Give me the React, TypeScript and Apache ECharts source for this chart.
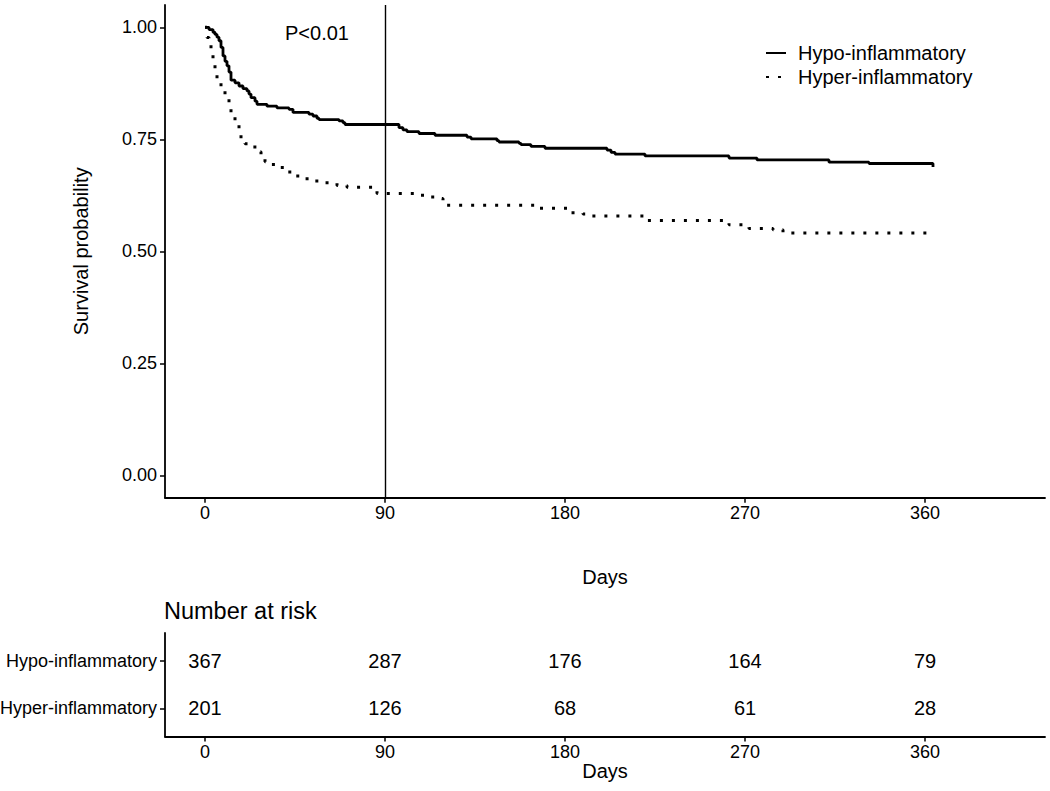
import React, { useEffect, useRef } from "react";
import * as echarts from "echarts";

// Kaplan-Meier step points (day of drop, survival after drop)
const hypoDays = [0, 2, 4, 5, 6, 7, 8, 9, 10, 11, 12, 13, 15, 17, 19, 21, 22, 23, 25, 26, 31, 36, 42, 44, 52, 54, 56, 57, 67, 69, 70, 97, 99, 101, 107, 115, 131, 133, 146, 147, 157, 158, 163, 170, 201, 203, 205, 220, 262, 276, 312, 332, 364];
const hypoSurv = [1.0, 0.995, 0.989, 0.984, 0.978, 0.97, 0.955, 0.936, 0.924, 0.914, 0.9, 0.882, 0.876, 0.869, 0.863, 0.858, 0.851, 0.843, 0.835, 0.828, 0.824, 0.82, 0.817, 0.81, 0.806, 0.802, 0.797, 0.794, 0.791, 0.787, 0.783, 0.776, 0.771, 0.767, 0.763, 0.759, 0.755, 0.751, 0.747, 0.744, 0.741, 0.738, 0.734, 0.73, 0.726, 0.721, 0.717, 0.713, 0.708, 0.704, 0.699, 0.696, 0.688];

const hyperDays = [0, 1, 2, 3, 4, 5, 6, 8, 10, 12, 13, 15, 17, 18, 20, 22, 26, 28, 30, 32, 37, 40, 45, 50, 55, 60, 66, 71, 86, 108, 110, 116, 119, 166, 183, 189, 193, 220, 262, 272, 284, 289, 365];
const hyperSurv = [1.0, 0.977, 0.962, 0.951, 0.925, 0.905, 0.884, 0.865, 0.847, 0.826, 0.806, 0.786, 0.765, 0.75, 0.74, 0.733, 0.722, 0.71, 0.7, 0.694, 0.687, 0.677, 0.668, 0.662, 0.657, 0.653, 0.647, 0.643, 0.629, 0.625, 0.621, 0.618, 0.603, 0.596, 0.586, 0.583, 0.579, 0.569, 0.559, 0.551, 0.548, 0.541, 0.541];

const groupNames = ["Hypo-inflammatory", "Hyper-inflammatory"];
const riskDays = [0, 90, 180, 270, 360];
const hypoAtRisk = [367, 287, 176, 164, 79];
const hyperAtRisk = [201, 126, 68, 61, 28];
const xTicks = [0, 90, 180, 270, 360];
const yTicks = [0, 0.25, 0.5, 0.75, 1];
const cutoffDay = 90;
const pValueText = "P<0.01";
const riskTitle = "Number at risk";
const xTitle = "Days";
const yTitle = "Survival probability";

const FONT = "'Liberation Sans', Arial, Helvetica, sans-serif";

export default function App() {
  const ref = useRef<HTMLDivElement>(null);

  useEffect(() => {
    if (!ref.current) return;
    const chart = echarts.init(ref.current, null, { renderer: "svg" });

    const axisLine = { show: true, onZero: false, lineStyle: { color: "#000", width: 1.8 } };
    const tick = (vals: number[]) => ({
      show: true,
      length: 5,
      customValues: vals,
      lineStyle: { color: "#000", width: 1.5 },
    });
    const xLabel = {
      customValues: xTicks,
      fontSize: 18,
      color: "#000",
      margin: 6,
      fontFamily: FONT,
    };

    const hypoData = hypoDays.map((d, i) => [d, hypoSurv[i]]);
    const hyperData = hyperDays.map((d, i) => [d, hyperSurv[i]]);
    const riskData = [
      ...riskDays.map((d, i) => [d, 2, hypoAtRisk[i]]),
      ...riskDays.map((d, i) => [d, 1, hyperAtRisk[i]]),
    ];

    chart.setOption({
      animation: false,
      backgroundColor: "#fff",
      textStyle: { fontFamily: FONT },
      title: {
        text: riskTitle,
        left: 164,
        top: 599,
        padding: 0,
        textStyle: { fontSize: 23.5, fontWeight: "normal", color: "#000", fontFamily: FONT },
      },
      legend: {
        orient: "vertical",
        left: 765,
        top: 43,
        padding: 0,
        itemGap: 4,
        itemWidth: 20,
        itemHeight: 14,
        itemStyle: { opacity: 0, borderWidth: 0 },
        data: groupNames,
        textStyle: { fontSize: 20, color: "#000", fontFamily: FONT, padding: [0, 0, 0, 7] },
      },
      grid: [
        { left: 165, top: 4.9, width: 880, height: 492.8, containLabel: false, outerBoundsMode: "none" },
        { left: 165, top: 633, width: 880, height: 103.5, containLabel: false, outerBoundsMode: "none" },
      ],
      xAxis: [
        {
          gridIndex: 0,
          type: "value",
          min: -20,
          max: 420,
          axisLine,
          axisTick: tick(xTicks),
          axisLabel: xLabel,
          splitLine: { show: false },
          name: xTitle,
          nameLocation: "middle",
          nameGap: 69,
          nameTextStyle: { fontSize: 20, color: "#000", fontFamily: FONT },
        },
        {
          gridIndex: 1,
          type: "value",
          min: -20,
          max: 420,
          axisLine,
          axisTick: tick(xTicks),
          axisLabel: xLabel,
          splitLine: { show: false },
          name: xTitle,
          nameLocation: "middle",
          nameGap: 23,
          nameTextStyle: { fontSize: 20, color: "#000", fontFamily: FONT },
        },
      ],
      yAxis: [
        {
          gridIndex: 0,
          type: "value",
          min: -0.05,
          max: 1.05,
          axisLine,
          axisTick: tick(yTicks),
          axisLabel: {
            customValues: yTicks,
            fontSize: 18,
            color: "#000",
            margin: 8,
            fontFamily: FONT,
            formatter: (v: number) => v.toFixed(2),
          },
          splitLine: { show: false },
          name: yTitle,
          nameLocation: "middle",
          nameGap: 74,
          nameTextStyle: { fontSize: 20, color: "#000", fontFamily: FONT },
        },
        {
          gridIndex: 1,
          type: "value",
          min: 0.4,
          max: 2.6,
          axisLine,
          axisTick: tick([1, 2]),
          axisLabel: {
            customValues: [1, 2],
            fontSize: 18,
            color: "#000",
            margin: 8,
            fontFamily: FONT,
            formatter: (v: number) => (v === 2 ? groupNames[0] : groupNames[1]),
          },
          splitLine: { show: false },
        },
      ],
      graphic: [
        {
          type: "text",
          left: 285,
          top: 23,
          style: { text: pValueText, fontSize: 20, fill: "#000", fontFamily: FONT },
        },
      ],
      series: [
        {
          name: groupNames[0],
          type: "line",
          step: "end",
          xAxisIndex: 0,
          yAxisIndex: 0,
          data: hypoData,
          symbol: "none",
          showSymbol: false,
          lineStyle: { color: "#000", width: 2.8, type: "solid" },
          itemStyle: { color: "#000" },
          markLine: {
            silent: true,
            symbol: ["none", "none"],
            label: { show: false },
            lineStyle: { color: "#000", width: 1.4, type: "solid" },
            data: [{ xAxis: cutoffDay }],
          },
        },
        {
          name: groupNames[1],
          type: "line",
          step: "end",
          xAxisIndex: 0,
          yAxisIndex: 0,
          data: hyperData,
          symbol: "none",
          showSymbol: false,
          lineStyle: { color: "#000", width: 3, type: [3, 9], cap: "butt" },
          itemStyle: { color: "#000" },
        },
        {
          name: "risk",
          type: "scatter",
          xAxisIndex: 1,
          yAxisIndex: 1,
          data: riskData,
          symbolSize: 1,
          itemStyle: { color: "#000", opacity: 0 },
          label: {
            show: true,
            position: "inside",
            formatter: (p: any) => String(p.value[2]),
            fontSize: 20,
            color: "#000",
            opacity: 1,
            textBorderWidth: 0,
            fontFamily: FONT,
          },
        },
      ],
    });

    return () => chart.dispose();
  }, []);

  return (
    <div
      ref={ref}
      style={{ position: "absolute", left: 0, top: 0, width: 1050, height: 791, background: "#fff" }}
    />
  );
}
